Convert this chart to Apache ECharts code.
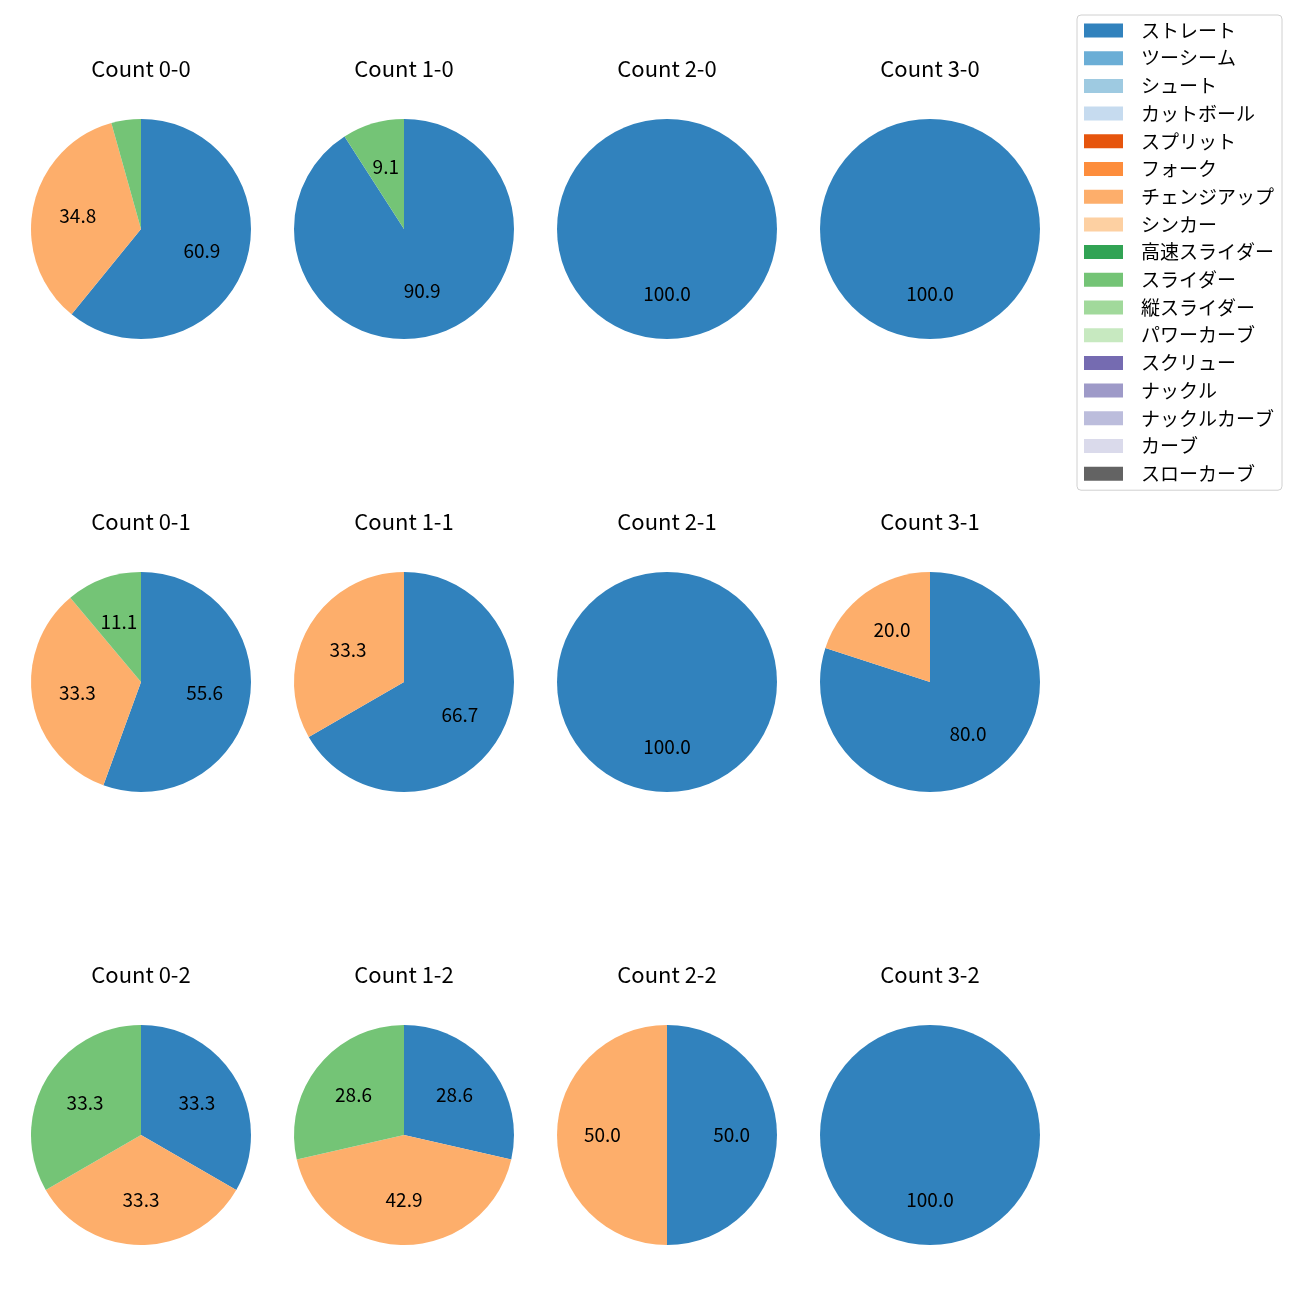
<!DOCTYPE html>
<html><head><meta charset="utf-8">
<script src="https://cdn.jsdelivr.net/npm/echarts@6/dist/echarts.min.js"></script>
<style>html,body{margin:0;padding:0;background:#fff}#c{width:1300px;height:1300px}</style>
</head><body><div id="c"></div>
<script>
const pitchTypes = ['ストレート','ツーシーム','シュート','カットボール','スプリット','フォーク','チェンジアップ','シンカー','高速スライダー','スライダー','縦スライダー','パワーカーブ','スクリュー','ナックル','ナックルカーブ','カーブ','スローカーブ'];
const pitchColors = ['#3182bd','#6baed6','#9ecae1','#c6dbef','#e6550d','#fd8d3c','#fdae6b','#fdd0a2','#31a354','#74c476','#a1d99b','#c7e9c0','#756bb1','#9e9ac8','#bcbddc','#dadaeb','#636363'];
const countLabels = ['0-0','1-0','2-0','3-0','0-1','1-1','2-1','3-1','0-2','1-2','2-2','3-2'];
// pitch counts per ball-strike count (same order as countLabels)
const straight = [14,10,1,1,5,2,1,4,1,2,1,1];
const changeup = [8,0,0,0,3,1,0,1,1,3,1,0];
const slider   = [1,1,0,0,1,0,0,0,1,2,0,0];

const FONT = '"Noto Sans CJK JP","Noto Sans",sans-serif';
const colX = [141,404,667,930];
const rowY = [229,682,1135];
const R = 110;

function valuesFor(i){
  return pitchTypes.map(function(name){
    if(name==='ストレート') return straight[i];
    if(name==='チェンジアップ') return changeup[i];
    if(name==='スライダー') return slider[i];
    return 0;
  });
}

const titles = [], series = [];
countLabels.forEach(function(lbl,i){
  const cx = colX[i%4], cy = rowY[Math.floor(i/4)];
  titles.push({text:'Count '+lbl,left:cx,top:cy-R-61,textAlign:'center',padding:0,
    textStyle:{fontFamily:FONT,fontSize:22,fontWeight:'normal',color:'#000'}});
  const vals = valuesFor(i);
  const total = vals.reduce(function(a,b){return a+b;},0);
  const data = pitchTypes.map(function(n,k){return {name:n,value:vals[k]};});
  series.push({type:'pie',center:[cx,cy],radius:[0,R],startAngle:90,clockwise:true,
    data:data,label:{show:false},labelLine:{show:false},silent:true,animation:false,
    itemStyle:{borderWidth:0}});
  series.push({type:'pie',center:[cx,cy],radius:[R*0.12,R],startAngle:90,clockwise:true,
    data:data.map(function(d){return {name:d.name,value:d.value};}),
    legendHoverLink:false,silent:true,animation:false,
    itemStyle:{color:'rgba(0,0,0,0)',borderWidth:0},
    label:{show:true,position:'inside',fontFamily:FONT,fontSize:19,color:'#000',
      formatter:function(p){const pct=p.value/total*100;return pct>=5?pct.toFixed(1):'';}},
    labelLine:{show:false}});
});

const chart = echarts.init(document.getElementById('c'),null,{renderer:'canvas'});
chart.setOption({
  animation:false,
  color:pitchColors,
  title:titles,
  legend:{orient:'vertical',left:1077,top:15,padding:[6,8,7,7],itemWidth:39,itemHeight:14,itemGap:8.7,
    borderColor:'#d0d0d0',borderWidth:1,borderRadius:4,
    data:pitchTypes,icon:'rect',selectedMode:false,
    textStyle:{fontFamily:FONT,fontSize:19,color:'#000',lineHeight:19,padding:[0,0,0,13]}},
  series:series
});
</script></body></html>
